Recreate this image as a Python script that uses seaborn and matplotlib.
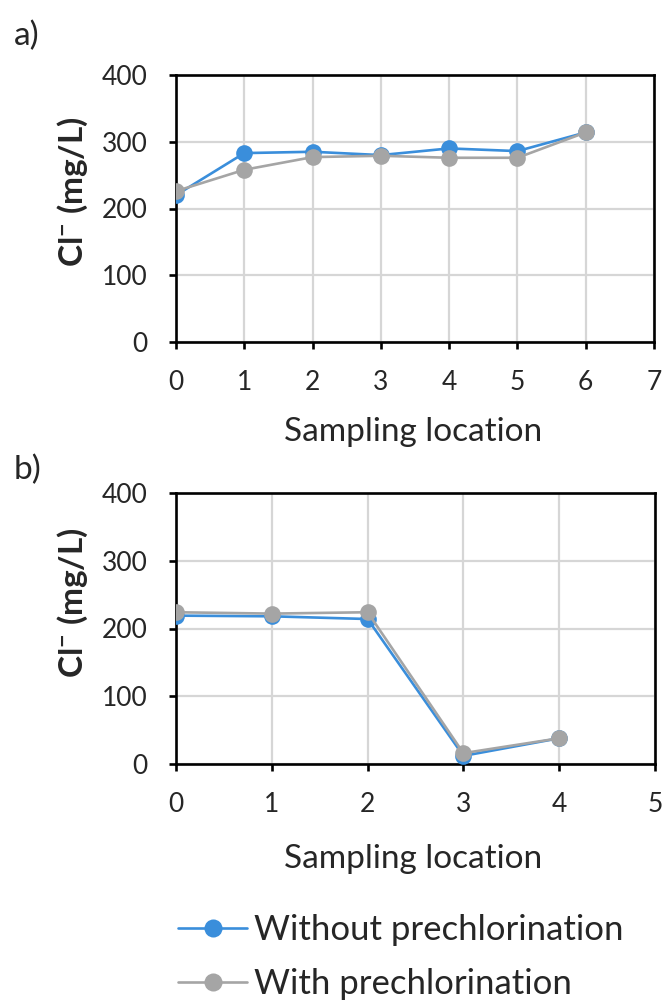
import numpy as np
import pandas as pd
import matplotlib
matplotlib.use("Agg")
import matplotlib.pyplot as plt
from matplotlib.lines import Line2D
import seaborn as sns

# Chloride concentration along the sampling locations
loc_a = [0, 1, 2, 3, 4, 5, 6]
without_a = [220, 283, 285, 280, 290, 286, 314]
with_a = [226, 258, 277, 279, 276, 276, 314]

loc_b = [0, 1, 2, 3, 4]
without_b = [219, 218, 214, 12, 38]
with_b = [224, 222, 224, 16, 38]

series_names = ["Without prechlorination", "With prechlorination"]
colors = {"Without prechlorination": "#3A8EDB", "With prechlorination": "#A5A5A5"}

sns.set_theme(style="white")
plt.rcParams["font.family"] = ["Lato", "DejaVu Sans"]
plt.rcParams["mathtext.fontset"] = "custom"
plt.rcParams["mathtext.rm"] = "Lato"
plt.rcParams["mathtext.bf"] = "Lato:bold"
plt.rcParams["mathtext.default"] = "bf"

TXT = "#262626"
TICK_FS = 19
LABEL_FS = 24

W, H = 666, 1002
fig = plt.figure(figsize=(W / 100, H / 100), dpi=100)


def fx(px):
    return px / W


def fy(py):
    return 1 - py / H


ax_a = fig.add_axes([fx(176), fy(342), 478 / W, 267 / H])
ax_b = fig.add_axes([fx(176), fy(764), 479 / W, 271 / H])


def make_frame(locs, v1, v2):
    return pd.DataFrame({
        "loc": list(locs) * 2,
        "cl": list(v1) + list(v2),
        "series": [series_names[0]] * len(locs) + [series_names[1]] * len(locs),
    })


panels = [
    # axes, data, x max, ylabel centre y, xlabel baseline y, panel tag y
    (ax_a, make_frame(loc_a, without_a, with_a), 7, 192, 441, "a)", 36),
    (ax_b, make_frame(loc_b, without_b, with_b), 5, 603, 868, "b)", 470),
]

for ax, df, xmax, ylab_y, xlab_y, tag, tag_y in panels:
    sns.lineplot(data=df, x="loc", y="cl", hue="series", hue_order=series_names,
                 palette=colors, marker="o", markersize=12, markeredgewidth=0,
                 linewidth=1.9, ax=ax, legend=False, zorder=3)
    ax.set_xlim(0, xmax)
    ax.set_ylim(0, 400)
    ax.set_xticks(range(0, xmax + 1))
    ax.set_yticks(range(0, 401, 100))
    ax.grid(True, color="#D6D6D6", linewidth=1.6)
    ax.set_axisbelow(True)
    for sp in ax.spines.values():
        sp.set_color("black")
        sp.set_linewidth(1.9)
        sp.set_visible(True)
    ax.tick_params(axis="both", which="major", direction="out", length=5,
                   width=1.9, color="black", labelsize=TICK_FS, labelcolor=TXT,
                   left=True, bottom=True)
    ax.tick_params(axis="x", pad=15.5)
    ax.tick_params(axis="y", pad=15.5)
    ax.set_xlabel("")
    ax.set_ylabel("")
    for lbl in ax.get_xticklabels() + ax.get_yticklabels():
        lbl.set_clip_on(False)

    fig.text(fx(413), fy(xlab_y), "Sampling location", fontsize=LABEL_FS,
             color=TXT, ha="center", va="baseline")
    fig.text(fx(73), fy(ylab_y), "Cl$^{-}$ (mg/L)", fontsize=24,
             fontweight="bold", color=TXT, rotation=90,
             ha="center", va="center")
    fig.text(fx(14), fy(tag_y), tag, fontsize=24, color=TXT, va="center")

handles = [Line2D([], [], color=colors[n], marker="o", markersize=13,
                  markeredgewidth=0, linewidth=1.9) for n in series_names]
fig.legend(handles, series_names, loc="center left",
           bbox_to_anchor=(fx(178), fy(957)), frameon=False,
           fontsize=25, handlelength=2.0, handletextpad=0.2,
           labelspacing=0.62, labelcolor=TXT, borderaxespad=0, borderpad=0)

fig.savefig("out.png", dpi=100)
